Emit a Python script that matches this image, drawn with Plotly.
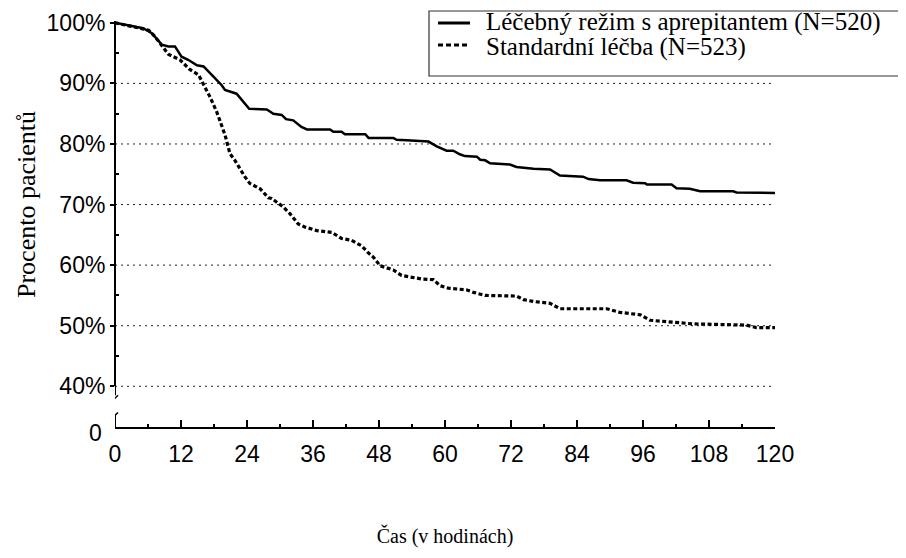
import plotly.graph_objects as go

# ---------------- data ----------------
hours_aprepitant = [0, 5.1, 6.7, 8.5, 9.7, 10.9, 12.1, 13.3, 14.9, 16.1, 17.9, 19.4, 20.0, 22.1, 24.4,
                    27.6, 28.8, 30.3, 31.1, 32.4, 33.9, 34.9, 39.1, 39.7, 41.2, 41.8, 45.5, 46.1, 50.6,
                    51.2, 53.0, 57.0, 58.5, 60.3, 61.5, 62.7, 63.6, 65.8, 66.4, 67.3, 68.2, 71.8, 73.0,
                    75.5, 76.1, 79.1, 80.3, 80.9, 85.1, 86.1, 88.2, 93.0, 94.2, 96.4, 96.7, 101.2, 102.1,
                    104.5, 106.4, 112.4, 113.0, 114.8, 115.8, 120]
pct_aprepitant = [100, 99.1, 98.3, 96.4, 96.1, 96.1, 94.4, 93.9, 93.0, 92.8, 91.1, 89.7, 88.9, 88.3, 85.8,
                  85.7, 85.0, 84.8, 84.1, 83.9, 82.8, 82.4, 82.4, 82.0, 82.0, 81.6, 81.6, 81.0, 81.0,
                  80.7, 80.6, 80.4, 79.6, 78.9, 78.9, 78.3, 78.0, 77.9, 77.4, 77.3, 76.8, 76.6, 76.2,
                  76.0, 75.9, 75.8, 75.1, 74.8, 74.6, 74.2, 74.0, 74.0, 73.6, 73.5, 73.3, 73.3, 72.7,
                  72.6, 72.2, 72.2, 72.0, 72.0, 71.9, 71.9]

hours_standard = [0, 5.1, 6.1, 7.3, 8.8, 9.7, 11.8, 13.6, 15.2, 16.1, 17.2, 18.5, 20.0, 20.9, 21.8, 23.6,
                  24.5, 26.4, 27.9, 28.5, 30.6, 31.8, 33.3, 34.5, 36.7, 39.4, 40.3, 41.2, 43.0, 44.8,
                  46.1, 47.0, 48.2, 50.6, 52.1, 55.8, 57.9, 59.1, 60.6, 64.0, 65.2, 67.3, 73.0, 74.3,
                  76.1, 79.1, 80.9, 89.4, 91.8, 95.5, 97.3, 102.7, 105.1, 114.8, 116.6, 120]
pct_standard = [100, 99.1, 98.8, 97.7, 95.8, 94.8, 93.9, 92.3, 91.4, 89.9, 87.9, 85.3, 81.5, 78.4, 77.3, 74.6,
                73.5, 72.6, 71.1, 71.0, 69.6, 68.5, 66.8, 66.3, 65.7, 65.4, 64.9, 64.4, 64.1, 63.2,
                62.0, 61.3, 59.9, 59.2, 58.3, 57.7, 57.6, 56.6, 56.2, 55.9, 55.5, 55.0, 54.9, 54.3,
                54.0, 53.7, 52.8, 52.8, 52.2, 51.8, 50.9, 50.5, 50.3, 50.1, 49.7, 49.7]

series_names = ["Léčebný režim s aprepitantem (N=520)", "Standardní léčba (N=523)"]
x_ticks = [0, 12, 24, 36, 48, 60, 72, 84, 96, 108, 120]
x_minor_ticks = [6, 18, 30, 42, 54, 66, 78, 90, 102, 114]
y_ticks = [40, 50, 60, 70, 80, 90, 100]
y_tick_labels = ["40%", "50%", "60%", "70%", "80%", "90%", "100%"]
y_minor_ticks = [45, 55, 65, 75, 85, 95]
grid_values = [40, 50, 60, 70, 80, 90]
y_bottom = 33.28          # value at the (broken) x-axis, labelled "0"
y_top = 100.3
x_title = "Čas (v hodinách)"
y_title = "Procento pacientů"

# ---------------- figure ----------------
# the page body has an 8px margin, so the figure is 8px smaller and the margins compensate
W, H = 898, 550
ML, MR, MT, MB = 107, 131, 13, 131
PW, PH = W - ML - MR, H - MT - MB      # 660 x 406
PAGE_L, PAGE_T = 8 + ML, 8 + MT        # plot-area origin in page pixels (115, 21)


def px_x(p):
    return (p - PAGE_L) / PW


def px_y(p):
    return (PAGE_T + PH - p) / PH


fig = go.Figure()
fig.add_trace(go.Scatter(x=hours_aprepitant, y=pct_aprepitant, mode="lines", name=series_names[0],
                         line=dict(color="black", width=2.5), showlegend=False))
fig.add_trace(go.Scatter(x=hours_standard, y=pct_standard, mode="lines", name=series_names[1],
                         line=dict(color="black", width=3.2, dash="4px,2.5px"), showlegend=False))

shapes = []
# dotted gridlines
for g in grid_values:
    shapes.append(dict(type="line", xref="x", yref="y", x0=0, x1=120, y0=g, y1=g,
                       line=dict(color="#222", width=1, dash="2px,4px"), layer="below"))
# broken y axis line
shapes.append(dict(type="line", xref="paper", yref="y", x0=0, x1=0, y0=y_top, y1=40,
                   line=dict(color="black", width=2)))
shapes.append(dict(type="line", xref="x", xsizemode="pixel", xanchor=0, x0=0, x1=0,
                   yref="y", ysizemode="pixel", yanchor=40, y0=0, y1=-9,
                   line=dict(color="black", width=2)))
shapes.append(dict(type="line", xref="x", xsizemode="pixel", xanchor=0, x0=-5, x1=3,
                   yref="y", ysizemode="pixel", yanchor=40, y0=-17, y1=-9,
                   line=dict(color="black", width=1.5)))
shapes.append(dict(type="line", xref="x", xsizemode="pixel", xanchor=0, x0=-2, x1=3,
                   yref="y", ysizemode="pixel", yanchor=y_bottom, y0=10, y1=14.5,
                   line=dict(color="black", width=1.5)))
shapes.append(dict(type="line", xref="x", xsizemode="pixel", xanchor=0, x0=0, x1=0,
                   yref="y", ysizemode="pixel", yanchor=y_bottom, y0=0, y1=12,
                   line=dict(color="black", width=2)))

# legend box and samples
shapes.append(dict(type="rect", xref="paper", yref="paper", x0=px_x(429), x1=px_x(912),
                   y0=px_y(76), y1=px_y(11), line=dict(color="#333", width=1.2),
                   fillcolor="white", layer="above"))
shapes.append(dict(type="line", xref="paper", yref="paper", x0=px_x(438), x1=px_x(470),
                   y0=px_y(23), y1=px_y(23), line=dict(color="black", width=3)))
shapes.append(dict(type="line", xref="paper", yref="paper", x0=px_x(438), x1=px_x(470),
                   y0=px_y(45), y1=px_y(45), line=dict(color="black", width=3, dash="5px,3px")))

legend_text = "<br>".join('<span style="font-size:25px">%s</span>' % s for s in series_names)

annotations = [
    dict(text=legend_text, xref="paper", yref="paper", x=px_x(484), y=px_y(34),
         xanchor="left", yanchor="middle", align="left", showarrow=False,
         font=dict(family="Liberation Serif", size=19.5, color="black")),
    dict(text="0", xref="paper", yref="y", x=0, y=y_bottom, xanchor="right", yanchor="middle",
         xshift=-11, yshift=-6, showarrow=False,
         font=dict(family="Liberation Sans", size=23, color="black")),
    dict(text=y_title, xref="paper", yref="paper", x=px_x(26), y=px_y(205), textangle=-90,
         xanchor="center", yanchor="middle", showarrow=False,
         font=dict(family="Liberation Serif", size=26, color="black")),
]

fig.update_layout(
    width=W, height=H,
    margin=dict(l=ML, r=MR, t=MT, b=MB, autoexpand=False),
    paper_bgcolor="white", plot_bgcolor="white",
    shapes=shapes, annotations=annotations,
    showlegend=False,
    xaxis=dict(range=[0, 120], tickvals=x_ticks, ticks="inside", ticklen=7, tickwidth=1.5,
               tickcolor="black", showline=True, linecolor="black", linewidth=2,
               showgrid=False, zeroline=False,
               tickfont=dict(family="Liberation Sans", size=23, color="black"),
               ticklabelstandoff=5,
               minor=dict(tickvals=x_minor_ticks, ticks="inside", ticklen=3, tickwidth=1.5,
                          tickcolor="black", showgrid=False),
               title=dict(text=x_title, standoff=63,
                          font=dict(family="Liberation Serif", size=20, color="black"))),
    yaxis=dict(range=[y_bottom, y_top], tickvals=y_ticks, ticktext=y_tick_labels,
               ticks="outside", ticklen=4, tickwidth=1.5, tickcolor="black",
               showline=False, showgrid=False, zeroline=False,
               tickfont=dict(family="Liberation Sans", size=23, color="black"),
               minor=dict(tickvals=y_minor_ticks, ticks="inside", ticklen=4, tickwidth=1.5,
                          tickcolor="black", showgrid=False)),
)

fig.write_html("out.html")
